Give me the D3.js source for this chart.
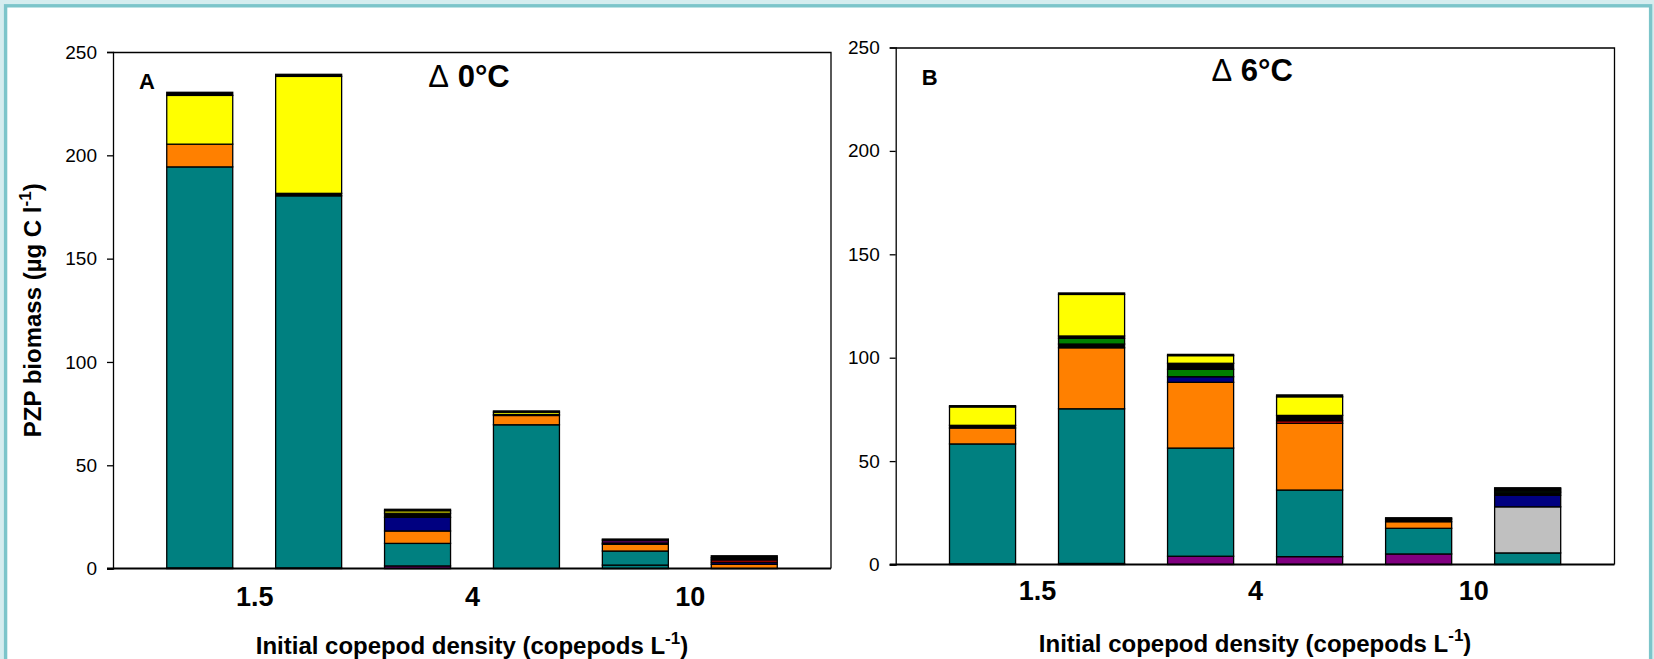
<!DOCTYPE html>
<html>
<head>
<meta charset="utf-8">
<script src="https://cdn.jsdelivr.net/npm/d3@7"></script>
<style>
  body { margin: 0; background: #d5edef; }
  svg { display: block; font-family: "Liberation Sans", Arial, sans-serif; }
</style>
</head>
<body>
<svg id="chart"></svg>
<script>
// categories on the x axis (two replicate bars each)
const densities = ["1.5", "4", "10"];
const bars = ["1.5a", "1.5b", "4a", "4b", "10a", "10b"];
const yTicks = [0, 50, 100, 150, 200, 250];

// stack order, bottom to top
const seriesKeys = ["purple", "teal", "gray", "teal2", "orange", "navy", "red",
                    "black1", "green", "black2", "violet", "yellow", "black3"];

// PZP biomass (ug C/l) per bar, columns follow seriesKeys
const biomass0C = [
  [0.3, 194.1, 0,    0,   11.0, 0,   0,   0,   0,   0,   0,   23.6, 1.5],
  [0.3, 180.1, 0,    0,   0,    0,   0,   0,   0,   1.2, 0,   56.6, 1.0],
  [1.3, 10.9,  0,    0,   6.0,  6.6, 0,   0,   0,   2.0, 0,   1.2,  0.7],
  [0,   69.6,  0,    0,   4.5,  0,   0,   0,   0,   0.5, 0,   1.1,  0.6],
  [0,   1.7,   0,    6.8, 3.3,  0,   0,   0,   0,   0.5, 1.5, 0,    0.5],
  [0,   0,     0,    0,   2.1,  1.0, 1.1, 0,   0,   1.0, 0,   0,    1.0]
];
const biomass6C = [
  [0.3, 58.0,  0,    0,   7.7,  0,   0,   0,   0,   1.3, 0,   8.9,  0.6],
  [0.5, 74.8,  0,    0,   29.5, 0,   0,   1.8, 2.8, 1.1, 0,   20.1, 0.7],
  [4.0, 52.3,  0,    0,   31.8, 2.7, 0,   0,   3.6, 2.9, 0,   3.7,  0.6],
  [3.8, 32.2,  0,    0,   32.3, 0,   1.2, 0,   0,   2.6, 0,   9.0,  0.9],
  [5.1, 12.4,  0,    0,   3.2,  0,   0,   0,   0,   1.3, 0,   0,    0.6],
  [0,   5.6,   22.3, 0,   0,    5.6, 0,   1.2, 0.8, 1.0, 0,   0,    0.6]
];

const colors = {
  purple: "#800080", teal: "#008080", gray: "#c0c0c0", teal2: "#008080",
  orange: "#ff8000", navy: "#000080", red: "#ff0000", black1: "#000000",
  green: "#008000", black2: "#000000", violet: "#4d004d", yellow: "#ffff00",
  black3: "#000000"
};

const svg = d3.select("#chart").attr("width", 1654).attr("height", 659);

// page frame
svg.append("rect")
  .attr("x", 5.6).attr("y", 5.8)
  .attr("width", 1645).attr("height", 720)
  .attr("fill", "#ffffff")
  .attr("stroke", "#7cc5ca")
  .attr("stroke-width", 3.4);

function drawPanel(cfg, rows) {
  const w = cfg.width, h = cfg.height;
  const g = svg.append("g").attr("transform", `translate(${cfg.left},${cfg.top})`);

  const data = rows.map((r, i) => {
    const o = { bar: bars[i] };
    seriesKeys.forEach((k, j) => o[k] = r[j]);
    return o;
  });
  const stacked = d3.stack().keys(seriesKeys)(data);

  const x = d3.scaleBand().domain(bars).range([0, w])
    .paddingInner(0.394).paddingOuter(0.4935);
  const y = d3.scaleLinear().domain([0, 250]).range([h, 0]);

  // group centres for the density labels
  const half = (x.step() + x.bandwidth()) / 2;
  const xCat = d3.scalePoint().domain(densities)
    .range([x(bars[0]) + half, x(bars[4]) + half]);

  // frame: top and right
  g.append("path")
    .attr("d", `M0,0.5H${w}V${h}`)
    .attr("fill", "none").attr("stroke", "#000").attr("stroke-width", 1.3);

  // stacked bars
  g.selectAll(".layer")
    .data(stacked)
    .join("g")
      .attr("class", "layer")
      .attr("fill", d => colors[d.key])
    .selectAll("rect")
    .data(d => d.filter(s => s[1] - s[0] > 0))
    .join("rect")
      .attr("x", d => x(d.data.bar))
      .attr("y", d => y(d[1]))
      .attr("width", x.bandwidth())
      .attr("height", d => y(d[0]) - y(d[1]))
      .attr("stroke", "#000")
      .attr("stroke-width", 1.3);

  // y axis
  const yAxis = g.append("g")
    .call(d3.axisLeft(y).tickValues(yTicks).tickSize(6).tickPadding(10));
  yAxis.select(".domain").attr("stroke-width", 1.3);
  yAxis.selectAll(".tick line").attr("stroke-width", 1.3);
  yAxis.selectAll("text")
    .style("font-size", "19px")
    .style("font-family", "'Liberation Sans', Arial, sans-serif")
    .attr("fill", "#000");

  // x axis (baseline plus density labels)
  g.append("line")
    .attr("x1", -6).attr("x2", w)
    .attr("y1", h).attr("y2", h)
    .attr("stroke", "#000").attr("stroke-width", 2);
  const xAxis = g.append("g")
    .attr("transform", `translate(0,${h})`)
    .call(d3.axisBottom(xCat).tickSize(0).tickPadding(cfg.labelPad));
  xAxis.select(".domain").remove();
  xAxis.selectAll("text")
    .style("font-size", "27px")
    .style("font-weight", "bold")
    .style("font-family", "'Liberation Sans', Arial, sans-serif")
    .attr("fill", "#000");

  // panel letter
  g.append("text")
    .attr("x", 26).attr("y", 37)
    .style("font-size", "22px").style("font-weight", "bold")
    .text(cfg.letter);

  // temperature title
  const t = g.append("text")
    .attr("x", w / 2 - 3).attr("y", cfg.titleY)
    .attr("text-anchor", "middle")
    .style("font-size", "31px").style("font-weight", "bold");
  t.append("tspan").style("font-weight", "normal").text("\u0394");
  t.append("tspan").text(" " + cfg.title);

  // x axis title
  const xt = g.append("text")
    .attr("x", w / 2).attr("y", h + cfg.xTitleY)
    .attr("text-anchor", "middle")
    .style("font-size", "24px").style("font-weight", "bold");
  xt.append("tspan").text("Initial copepod density (copepods L");
  xt.append("tspan").attr("dy", "-0.6em").style("font-size", "17px").text("-1");
  xt.append("tspan").attr("dy", "0.42em").text(")");

  if (cfg.yTitle) {
    const yt = g.append("text")
      .attr("transform", `translate(-72,${h / 2}) rotate(-90)`)
      .attr("text-anchor", "middle")
      .style("font-size", "24px").style("font-weight", "bold");
    yt.append("tspan").text("PZP biomass (\u00b5g C l");
    yt.append("tspan").attr("dy", "-0.6em").style("font-size", "17px").text("-1");
    yt.append("tspan").attr("dy", "0.42em").text(")");
  }
}

drawPanel({ left: 113, top: 52, width: 718, height: 516.6, letter: "A",
            title: "0\u00b0C", titleY: 35.4, xTitleY: 85.5, labelPad: 18, yTitle: true }, biomass0C);
drawPanel({ left: 895.7, top: 47.5, width: 718.8, height: 517, letter: "B",
            title: "6\u00b0C", titleY: 33.2, xTitleY: 87, labelPad: 16, yTitle: false }, biomass6C);
</script>
</body>
</html>
